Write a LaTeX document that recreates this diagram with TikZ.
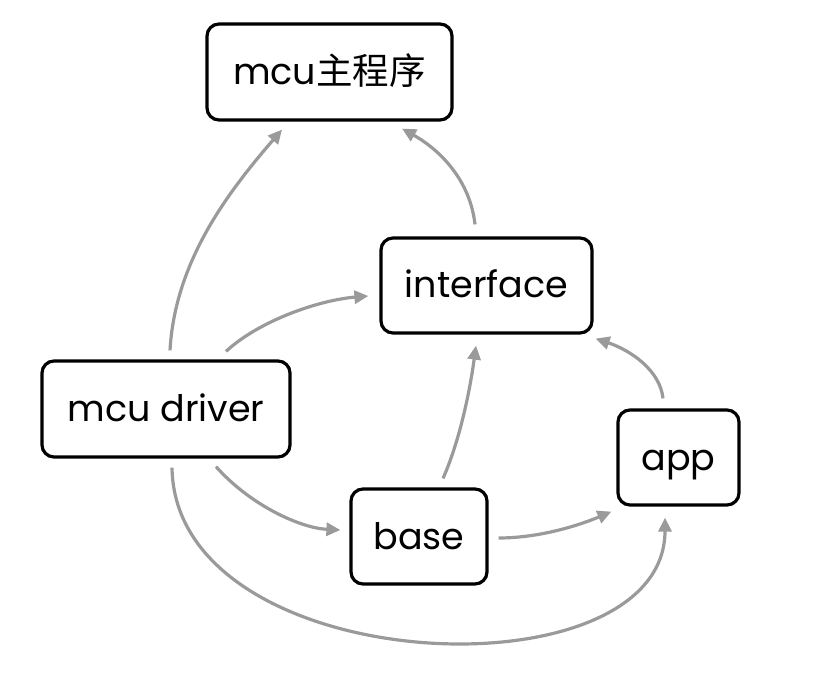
\documentclass[tikz,border=0pt]{standalone}
\usepackage{fontspec}
\setmainfont{Poppins}
\newfontfamily\cjk{Noto Sans CJK SC}
\usetikzlibrary{arrows.meta,calc}
\definecolor{arrgray}{HTML}{9A9A9A}
\begin{document}
\begin{tikzpicture}[x=1pt,y=-1pt,
  box/.style={draw=black,line width=3.2pt,rounded corners=12pt,fill=white,inner sep=0pt,text height=25pt,text depth=0pt,font=\fontsize{36.5}{40}\selectfont},
  arr/.style={draw=arrgray,line width=3.2pt,-{Triangle[length=14pt,width=13pt]}}]
\useasboundingbox (0,0) rectangle (838,684);
\node[box,minimum width=245pt,minimum height=96pt] (main) at (329.5,72) {mcu{\cjk 主程序}};
\node[box,minimum width=211pt,minimum height=95pt] (intf) at (486.5,285.5) {interface};
\node[box,minimum width=248pt,minimum height=96pt] (drv) at (166,409) {mcu driver};
\node[box,minimum width=136pt,minimum height=95pt] (base) at (419,536.5) {base};
\node[box,minimum width=121pt,minimum height=95pt] (app) at (678.5,457.5) {app};
% drv -> main
\draw[arr] ($(drv.north)+(4,-9)$) .. controls (175,260) and (230,190) .. ($(main.south)+(-47.5,8)$);
% intf -> main
\draw[arr] ($(intf.north)+(-11.5,-12)$) .. controls (470,180) and (440,150) .. ($(main.south)+(72.5,7)$);
% drv -> intf
\draw[arr] ($(drv.north)+(60,-8)$) .. controls (260,320) and (320,300) .. ($(intf.west)+(-11,10.5)$);
% base -> intf
\draw[arr] ($(base.north)+(24,-9)$) .. controls (460,440) and (470,390) .. ($(intf.south)+(-10.5,11)$);
% app -> intf
\draw[arr] ($(app.north)+(-15.5,-10)$) .. controls (660,370) and (630,350) .. ($(intf.south east)+(2,4)$);
% drv -> base
\draw[arr] ($(drv.south)+(50,8)$) .. controls (250,505) and (300,528) .. ($(base.west)+(-9,-6.5)$);
% base -> app
\draw[arr] ($(base.east)+(10,1.5)$) .. controls (540,538) and (580,525) .. ($(app.south west)+(-5,5)$);
% drv -> app
\draw[arr] ($(drv.south)+(6,9)$) .. controls (175,680) and (665,700) .. ($(app.south)+(-13.5,11)$);
\end{tikzpicture}
\end{document}
